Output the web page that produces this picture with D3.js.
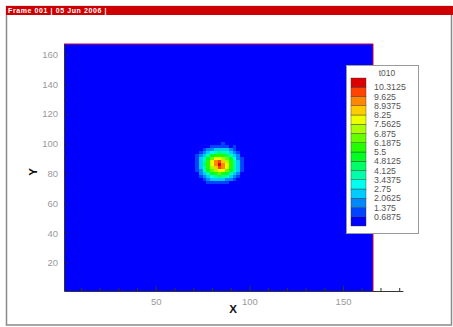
<!DOCTYPE html>
<html>
<head>
<meta charset="utf-8">
<script src="https://cdn.jsdelivr.net/npm/d3@7"></script>
<style>
  html, body { margin: 0; padding: 0; background: #fff; }
  svg { display: block; font-family: "Liberation Sans", Arial, sans-serif; }
</style>
</head>
<body>
<svg id="chart" width="453" height="327"></svg>
<script>
// ---- Data -------------------------------------------------------------
const headerText = "Frame 001 | 05 Jun 2006 |";
const variableName = "t010";

// contour level boundaries of t010 and their printed labels
const contourLevels = [0.6875, 1.375, 2.0625, 2.75, 3.4375, 4.125, 4.8125, 5.5,
                       6.1875, 6.875, 7.5625, 8.25, 8.9375, 9.625, 10.3125];
const levelLabels = ["0.6875", "1.375", "2.0625", "2.75", "3.4375", "4.125", "4.8125", "5.5",
                     "6.1875", "6.875", "7.5625", "8.25", "8.9375", "9.625", "10.3125"];
// one colour per band, lowest band first
const levelColors = ["#0000ff", "#0044ff", "#0088ff", "#00ccff", "#00ffee", "#00ffaa",
                     "#00ff66", "#00ff22", "#22ff00", "#66ff00", "#aaff00", "#eeff00",
                     "#ffcc00", "#ff8800", "#ff4400", "#dd0000"];

const xTickLabels = [50, 100, 150];
const yTickLabels = [20, 40, 60, 80, 100, 120, 140, 160];
const xMinorTicks = [10, 20, 30, 40, 50, 60, 70, 80, 90, 100, 110, 120, 130, 140, 150, 160, 170, 180];
const yMinorTicks = [10, 20, 30, 40, 50, 60, 70, 80, 90, 100, 110, 120, 130, 140, 150, 160];

const fieldX = [1, 166];     // extent of the computed field
const fieldY = [1, 167];
const axisXEnd = 182;        // x axis runs past the field

// t010 sampled on 2-unit cells around the peak (cell centres)
const cellSize = 2;
const gridX = [70, 72, 74, 76, 78, 80, 82, 84, 86, 88, 90, 92, 94, 96, 98];
const gridY = [100, 98, 96, 94, 92, 90, 88, 86, 84, 82, 80, 78, 76, 74, 72];
const tValues = [
  [0,   0,   0,   0.1, 0.2, 0.3, 0.5, 0.4, 0.7, 0.3, 0.2, 0.1, 0,   0,   0  ],
  [0,   0,   0.1, 0.3, 0.4, 0.8, 1.0, 1.3, 1.1, 0.9, 0.5, 0.7, 0.1, 0,   0  ],
  [0,   0.1, 0.4, 0.9, 1.4, 2.0, 2.6, 2.5, 2.7, 2.2, 1.6, 0.8, 0.3, 0.1, 0  ],
  [0.1, 0.4, 0.8, 1.7, 2.7, 3.4, 4.1, 4.3, 3.9, 3.6, 2.5, 1.9, 0.9, 0.2, 0  ],
  [0.2, 0.7, 1.6, 2.6, 3.9, 5.1, 5.8, 6.1, 5.6, 4.8, 3.7, 2.4, 1.4, 0.5, 0.1],
  [0.3, 0.9, 2.2, 3.6, 5.0, 6.5, 7.7, 8.1, 7.4, 6.3, 5.1, 3.4, 2.0, 0.8, 0.2],
  [0.5, 1.2, 2.5, 4.1, 5.8, 7.7, 9.0, 9.7, 8.8, 7.5, 5.6, 4.0, 2.4, 1.0, 0.3],
  [0.4, 1.3, 2.7, 4.3, 6.1, 8.1, 9.6, 11.0,9.4, 7.9, 5.9, 4.1, 2.6, 1.1, 0.5],
  [0.3, 1.0, 2.4, 3.9, 5.6, 7.5, 8.7, 9.8, 9.0, 7.7, 5.8, 4.0, 2.5, 1.2, 0.4],
  [0.2, 0.8, 2.0, 3.5, 4.9, 6.2, 7.4, 8.2, 7.6, 6.5, 5.0, 3.5, 2.1, 0.9, 0.2],
  [0.1, 0.5, 1.4, 2.5, 3.8, 4.9, 5.6, 6.2, 5.7, 5.1, 3.9, 2.7, 1.5, 0.6, 0.1],
  [0,   0.3, 0.9, 1.8, 2.6, 3.4, 4.0, 4.3, 4.1, 3.5, 2.6, 1.7, 0.8, 0.3, 0  ],
  [0,   0.1, 0.3, 0.9, 1.5, 2.1, 2.4, 2.7, 2.5, 2.0, 1.4, 0.8, 0.4, 0.1, 0  ],
  [0,   0,   0.1, 0.4, 0.7, 0.9, 1.1, 1.2, 1.0, 0.8, 0.6, 0.3, 0.1, 0,   0  ],
  [0,   0,   0,   0.1, 0.2, 0.4, 0.5, 0.4, 0.5, 0.3, 0.1, 0,   0,   0,   0  ]
];

// ---- Layout -----------------------------------------------------------
const svg = d3.select("#chart");
const plot = { left: 64, right: 373, top: 44, bottom: 291 };

const x = d3.scaleLinear().domain(fieldX).range([plot.left, plot.right]);
const y = d3.scaleLinear().domain(fieldY).range([plot.bottom, plot.top]);
const color = d3.scaleThreshold().domain(contourLevels).range(levelColors);

// frame + header bar
svg.append("rect").attr("x", 6.5).attr("y", 6.5).attr("width", 445).attr("height", 318.5)
  .attr("fill", "#fff").attr("stroke", "#8a8a8a").attr("stroke-width", 1.5);
svg.append("rect").attr("x", 6).attr("y", 6).attr("width", 447).attr("height", 9)
  .attr("fill", "#cc0000");
svg.append("text").attr("x", 8).attr("y", 13.2)
  .attr("fill", "#fff").attr("font-size", 7).attr("font-weight", "bold")
  .attr("letter-spacing", 0.6)
  .text(headerText);

// field background (lowest band) and the sampled cells
svg.append("rect")
  .attr("x", x(fieldX[0])).attr("y", y(fieldY[1]))
  .attr("width", x(fieldX[1]) - x(fieldX[0]))
  .attr("height", y(fieldY[0]) - y(fieldY[1]))
  .attr("fill", color(0));

const cells = [];
gridY.forEach((gy, i) => gridX.forEach((gx, j) => cells.push({ gx, gy, v: tValues[i][j] })));
svg.append("g").attr("shape-rendering", "crispEdges")
  .selectAll("rect").data(cells).join("rect")
  .attr("x", d => x(d.gx - cellSize / 2))
  .attr("y", d => y(d.gy + cellSize / 2))
  .attr("width", d => x(d.gx + cellSize / 2) - x(d.gx - cellSize / 2))
  .attr("height", d => y(d.gy - cellSize / 2) - y(d.gy + cellSize / 2))
  .attr("fill", d => color(d.v));

// red boundary on the top and right of the field
svg.append("path")
  .attr("d", `M${x(fieldX[0])},${y(fieldY[1])}H${x(fieldX[1])}V${y(fieldY[0])}`)
  .attr("fill", "none").attr("stroke", "#d4003a").attr("stroke-width", 1);

// ---- Axes -------------------------------------------------------------
const xAxisScale = d3.scaleLinear().domain([fieldX[0], axisXEnd])
  .range([plot.left, x(axisXEnd)]);
const xAxis = svg.append("g").attr("transform", `translate(0,${plot.bottom})`)
  .call(d3.axisBottom(xAxisScale).tickValues(xMinorTicks).tickSizeInner(-3).tickSizeOuter(0)
    .tickPadding(7).tickFormat(d => xTickLabels.includes(d) ? d : ""));
xAxis.select(".domain").attr("stroke", "#333");
xAxis.selectAll(".tick line").attr("stroke", "#333")
  .attr("y2", d => xTickLabels.includes(d) ? -5 : -3);
xAxis.selectAll(".tick text").attr("fill", "#999").attr("font-size", 9.5)
  .attr("font-family", "Liberation Sans, Arial, sans-serif");

const yAxis = svg.append("g").attr("transform", `translate(${plot.left},0)`)
  .call(d3.axisLeft(y).tickValues(yMinorTicks).tickSizeInner(-3).tickSizeOuter(0)
    .tickPadding(6).tickFormat(d => yTickLabels.includes(d) ? d : ""));
yAxis.select(".domain").attr("stroke", "#333");
yAxis.selectAll(".tick line").attr("stroke", "#1a1a80")
  .attr("x2", d => yTickLabels.includes(d) ? 5 : 3);
yAxis.selectAll(".tick text").attr("fill", "#999").attr("font-size", 9.5)
  .attr("font-family", "Liberation Sans, Arial, sans-serif");

svg.append("text").attr("x", 233).attr("y", 313).attr("text-anchor", "middle")
  .attr("font-size", 11.5).attr("font-weight", "bold").attr("fill", "#111").text("X");
svg.append("text").attr("transform", "translate(37,172) rotate(-90)")
  .attr("text-anchor", "middle").attr("font-size", 11.5).attr("font-weight", "bold")
  .attr("fill", "#111").text("Y");

// ---- Legend -----------------------------------------------------------
const step = contourLevels[1] - contourLevels[0];
const bounds = [0].concat(contourLevels, [contourLevels[contourLevels.length - 1] + step]);
const ly = d3.scaleLinear().domain([bounds[0], bounds[bounds.length - 1]]).range([226, 78]);

const legend = svg.append("g");
legend.append("rect").attr("x", 346.5).attr("y", 65.5).attr("width", 72).attr("height", 168)
  .attr("fill", "#fff").attr("stroke", "#9a9a9a").attr("stroke-width", 1);
legend.append("text").attr("x", 387).attr("y", 75.5).attr("text-anchor", "middle")
  .attr("font-size", 8.5).attr("fill", "#555").text(variableName);
legend.selectAll("rect.sw").data(levelColors).join("rect").attr("class", "sw")
  .attr("x", 351).attr("width", 15)
  .attr("y", (c, i) => ly(bounds[i + 1]))
  .attr("height", (c, i) => ly(bounds[i]) - ly(bounds[i + 1]))
  .attr("fill", c => c).attr("stroke", "#333").attr("stroke-width", 0.4);
legend.selectAll("text.lab").data(contourLevels).join("text").attr("class", "lab")
  .attr("x", 374).attr("y", d => ly(d) + 3)
  .attr("font-size", 8.8).attr("fill", "#555")
  .text((d, i) => levelLabels[i]);
</script>
</body>
</html>
